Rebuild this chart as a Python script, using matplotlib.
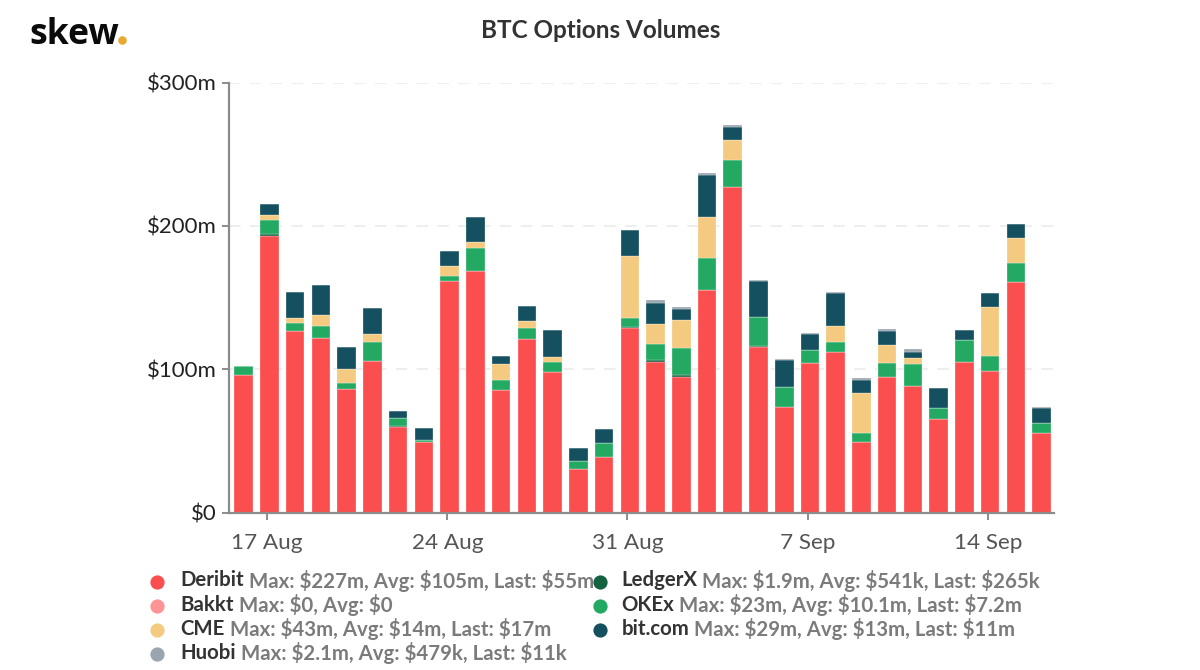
import matplotlib
matplotlib.use('Agg')
import matplotlib.pyplot as plt
import numpy as np

plt.rcParams['font.family'] = ['Lato', 'Open Sans', 'DejaVu Sans']

# first bar is 16 Aug, one bar per day
deribit = [96.1, 193.2, 126.6, 121.5, 86.4, 105.7, 59.8, 49.3, 161.8, 168.8, 85.2, 121, 97.8, 30.5, 38.4, 129,
           104.7, 94.3, 155, 227, 115.7, 73.3, 104.3, 111.7, 48.9, 94.3, 88, 65, 104.7, 98.5, 160.6, 55.2]
ledgerx = [0, 0.9, 0, 0, 0, 0, 0.3, 0, 0, 0, 0, 0, 0.3, 0, 0.2, 0.7,
           1.6, 1.6, 0, 0, 0.4, 0, 0, 0, 0, 0, 0, 0, 0, 0, 0, 0]
okex = [5.8, 9.8, 5.8, 8.6, 4.0, 13.3, 5.5, 1.2, 3.5, 15.4, 7.2, 7.9, 6.9, 5.1, 9.6, 6.3,
        11.2, 18.6, 22.8, 19, 20.1, 14.4, 9.1, 7.2, 6.3, 9.8, 15.6, 7.9, 15.4, 10.7, 13.5, 7.2]
cme = [0, 3.7, 3.3, 7.7, 9.8, 5.4, 0, 0, 7.0, 4.2, 10.9, 4.4, 3.5, 0, 0, 43.3,
       14, 20, 28.6, 13.7, 0, 0, 0, 10.9, 28.2, 12.8, 4.4, 0, 0, 34.2, 17.5, 0]
bitcom = [0, 7.4, 18.4, 21.2, 15.1, 18.2, 4.9, 8.4, 9.8, 17.5, 5.6, 10.5, 19.1, 9.3, 9.8, 17.9,
          14.7, 7.7, 29.3, 9.5, 25.1, 18.9, 11.4, 23.5, 9.3, 10, 4.2, 14.2, 7, 9.8, 9.8, 10.7]
huobi = [0.3, 0, 0, 0, 0, 0, 0, 0, 0, 0, 0, 0, 0, 0, 0, 0,
         2.1, 0.9, 1.2, 0.9, 0.9, 0.4, 0.4, 0.3, 1.2, 0.9, 2.1, 0, 0.3, 0, 0, 0.3]

x_ticks = [1, 8, 15, 22, 29]
x_labels = ['17 Aug', '24 Aug', '31 Aug', '7 Sep', '14 Sep']
y_ticks = [0, 100, 200, 300]
y_labels = ['$0', '$100m', '$200m', '$300m']

RED = '#fb4e4e'
PINK = '#ff9496'
TAN = '#f3ca80'
GREY = '#9aa5ae'
DARKGREEN = '#14623f'
GREEN = '#23a962'
NAVY = '#14505f'

legend_left = [('Deribit', 'Max: $227m, Avg: $105m, Last: $55m', RED),
               ('Bakkt', 'Max: $0, Avg: $0', PINK),
               ('CME', 'Max: $43m, Avg: $14m, Last: $17m', TAN),
               ('Huobi', 'Max: $2.1m, Avg: $479k, Last: $11k', GREY)]
legend_right = [('LedgerX', 'Max: $1.9m, Avg: $541k, Last: $265k', DARKGREEN),
                ('OKEx', 'Max: $23m, Avg: $10.1m, Last: $7.2m', GREEN),
                ('bit.com', 'Max: $29m, Avg: $13m, Last: $11m', NAVY)]

W, H = 1200, 670
fig = plt.figure(figsize=(W / 100, H / 100), dpi=100)

# axes box in pixels: left 229, right 1054, top 82.5, bottom 512.5
ax = fig.add_axes([229 / W, 1 - 512.5 / H, (1054 - 229) / W, (512.5 - 82.5) / H])
ax.set_xlim(-0.571, 31.48)
ax.set_ylim(0, 300)
ax.set_axisbelow(True)

x = np.arange(len(deribit))
bottom = np.zeros(len(deribit))
for vals, col in [(deribit, RED), (ledgerx, DARKGREEN), (okex, GREEN), (cme, TAN), (bitcom, NAVY), (huobi, GREY)]:
    ax.bar(x, vals, width=0.72, bottom=bottom, color=col, edgecolor='white', linewidth=0.2)
    bottom = bottom + np.array(vals)

ax.yaxis.grid(True, color='#eeeeee', linewidth=1.5, linestyle=(0, (5.5, 4.5)))
for s in ['top', 'right']:
    ax.spines[s].set_visible(False)
for s in ['left', 'bottom']:
    ax.spines[s].set_color('#8c8c8c')
    ax.spines[s].set_linewidth(1.6)

# ticks sit a little left of the bar centres
ax.set_xticks(np.array(x_ticks) - 0.09)
ax.set_xticklabels(x_labels, fontsize=16.2, color='#555555')
ax.set_yticks(y_ticks)
ax.set_yticklabels(y_labels, fontsize=16, color='#222222')
ax.tick_params(axis='x', length=5, width=1.4, color='#8c8c8c', pad=10)
ax.tick_params(axis='y', length=5, width=1.4, color='#8c8c8c', pad=4)
for lab in ax.get_xticklabels():
    lab.set_x(lab.get_position()[0])

# overlay in pixel coordinates for title, logo and legend
ov = fig.add_axes([0, 0, 1, 1])
ov.set_xlim(0, W)
ov.set_ylim(H, 0)
ov.axis('off')
ov.patch.set_alpha(0)

ov.text(600.5, 31, 'BTC Options Volumes', ha='center', va='center', fontsize=17.5, color='#333333', fontweight='bold')
ov.text(29, 44, 'skew', ha='left', va='baseline', fontsize=25.7, fontweight='bold', family='Open Sans', color='#0b0b0b')
# logo dot drawn as a marker so it does not run into the word
ov.scatter([121.5], [40], s=38, color='#e9a92f', linewidths=0)


def draw_legend(rows, dot_x, text_x):
    renderer = fig.canvas.get_renderer()
    for i, (name, stats, col) in enumerate(rows):
        y = 581.5 + i * 24.1
        ov.scatter([dot_x], [y], s=105, color=col, linewidths=0)
        t = ov.text(text_x, y - 1, name, ha='left', va='center', fontsize=14.7, fontweight='bold', color='#333333', parse_math=False)
        right = ov.transData.inverted().transform(t.get_window_extent(renderer))[1][0]
        ov.text(right + 5, y - 1, stats, ha='left', va='center', fontsize=14.7, fontweight='bold', color='#7b7b7b', parse_math=False)


draw_legend(legend_left, 157, 180.5)
draw_legend(legend_right, 600, 621.5)

fig.savefig('out.png', dpi=100, facecolor='white')
